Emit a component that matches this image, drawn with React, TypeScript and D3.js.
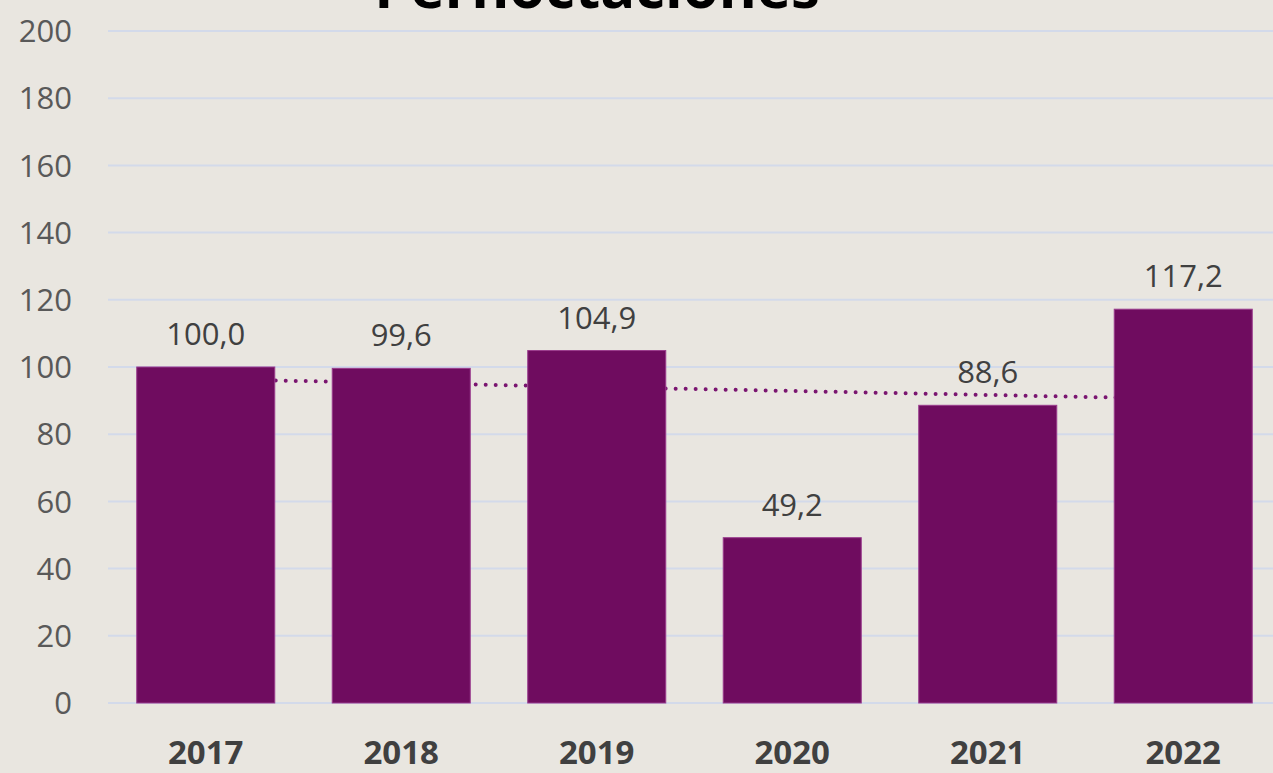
import React from "react";
import * as d3 from "d3";

const categories = ["2017", "2018", "2019", "2020", "2021", "2022"];
const values = [100.0, 99.6, 104.9, 49.2, 88.6, 117.2];
const valueLabels = ["100,0", "99,6", "104,9", "49,2", "88,6", "117,2"];
const trendEnds = [96.4, 90.5];
const yTicks = [0, 20, 40, 60, 80, 100, 120, 140, 160, 180, 200];
const title = "Pernoctaciones";

const W = 1273;
const H = 773;
const left = 108;
const right = 1281;
const top = 31;
const bottom = 703;

export default function App() {
  const x = d3.scaleBand<string>().domain(categories).range([left, right]).paddingInner(0.294).paddingOuter(0.147);
  const y = d3.scaleLinear().domain([0, 200]).range([bottom, top]);
  const first = categories[0];
  const last = categories[categories.length - 1];
  const cx = (c: string) => (x(c) ?? 0) + x.bandwidth() / 2;
  const trendLine = d3.line<[number, number]>()([
    [cx(first), y(trendEnds[0])],
    [cx(last), y(trendEnds[1])],
  ]);
  const font = "'Open Sans', sans-serif";
  return (
    <svg width={W} height={H} style={{ position: "absolute", left: 0, top: 0, background: "#E9E6E0" }}>
      <rect x={0} y={0} width={W} height={H} fill="#E9E6E0" />
      {yTicks.map((t) => (
        <g key={t}>
          <line x1={left} x2={W} y1={y(t)} y2={y(t)} stroke="#D3DAEA" strokeWidth={2} />
          <text x={72} y={y(t)} dy="0.36em" textAnchor="end" fontFamily={font} fontSize={31} fill="#595959">
            {t}
          </text>
        </g>
      ))}
      <path d={trendLine ?? ""} fill="none" stroke="#7A1570" strokeWidth={4} strokeLinecap="round" strokeDasharray="0 10" />
      {categories.map((c, i) => (
        <g key={c}>
          <rect
            x={x(c)}
            y={y(values[i])}
            width={x.bandwidth()}
            height={y(0) - y(values[i])}
            fill="#6F0C5F"
            stroke="#9A3C8D"
            strokeWidth={1}
          />
          <text x={cx(c)} y={y(values[i]) - 22} textAnchor="middle" fontFamily={font} fontSize={31} fill="#404040">
            {valueLabels[i]}
          </text>
          <text x={cx(c)} y={764} textAnchor="middle" fontFamily={font} fontWeight="bold" fontSize={33} fill="#404040">
            {c}
          </text>
        </g>
      ))}
      <text x={597} y={8} textAnchor="middle" fontFamily={font} fontWeight="bold" fontSize={58} fill="#000000">
        {title}
      </text>
    </svg>
  );
}
